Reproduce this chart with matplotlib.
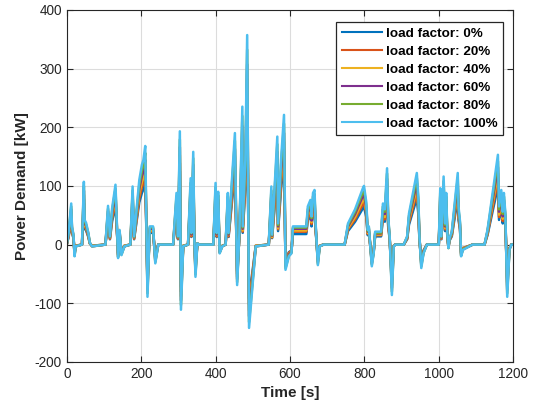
import numpy as np
import matplotlib.pyplot as plt

plt.rcParams['font.family'] = ['Liberation Sans', 'DejaVu Sans']
plt.rcParams['axes.unicode_minus'] = False

# =========================
# Data
# =========================
t = [0, 5, 12, 14, 18, 21, 24, 41, 46, 48, 52, 58, 62, 68, 104, 111, 116, 122, 131, 138,
     142, 147, 155, 171, 177, 181, 195, 202, 206, 211, 217, 223, 232, 238, 246, 286, 295, 299,
     304, 307, 313, 326, 333, 335, 340, 343, 346, 351, 356, 394, 400, 403, 407, 409, 411, 418,
     427, 433, 435, 445, 452, 458, 464, 472, 473, 480, 485, 490, 508, 543, 550, 552, 566, 568,
     576, 584, 588, 597, 604, 608, 644, 648, 655, 658, 662, 666, 669, 675, 680, 690, 747, 756,
     775, 796, 799, 805, 809, 812, 820, 825, 829, 845, 850, 855, 861, 864, 868, 874, 879, 883,
     906, 915, 920, 941, 945, 948, 953, 959, 968, 1000, 1004, 1007, 1013, 1017, 1020, 1023,
     1026, 1029, 1035, 1051, 1053, 1057, 1060, 1065, 1091, 1123, 1131, 1159, 1162, 1168, 1172,
     1175, 1179, 1184, 1190, 1195, 1200]

p100 = [0, 20, 70, 31, 17, -20, -3, 0, 107, 42, 37, 20, 3, -3, 0, 66, 14, 62, 102, -23,
        25, -18, -3, 0, 99, 14, 110, 136, 144, 168, -89, 31, 31, -32, 0, 0, 88, 14,
        193, -111, -3, 0, 113, 20, 158, 14, -55, 2, 0, 0, 105, 20, 90, 36, -15, -3,
        0, 88, 20, 120, 190, -69, 19, 235, 31, 144, 357, -142, -3, 0, 99, 17, 184, 36,
        144, 221, -43, -20, -15, 31, 31, 65, 76, 48, 88, 93, 36, -35, -3, 0, 0, 36,
        60, 96, 100, 73, 25, 31, -37, -15, 22, 22, 70, 60, 130, 48, 14, -86, -3, 0,
        0, 14, 53, 122, 82, 14, -40, -15, 0, 0, 96, 14, 116, 36, 88, 20,
        -6, 11, 22, 122, 65, 40, -20, -9, 0, 0, 25, 153, 65, 93, 56,
        88, 53, -89, -9, 0, 0]

p80 = [0, 19, 65, 29, 16, -19, -3, 0, 100, 39, 34, 19, 3, -3, 0, 61, 13, 58, 95, -21,
       23, -17, -3, 0, 92, 13, 102, 126, 134, 156, -83, 29, 29, -30, 0, 0, 82, 13,
       179, -103, -3, 0, 105, 19, 147, 13, -51, 2, 0, 0, 98, 19, 84, 33, -14, -3,
       0, 82, 19, 112, 177, -64, 18, 219, 29, 134, 332, -132, -3, 0, 92, 16, 171, 33,
       134, 206, -40, -19, -14, 29, 29, 60, 71, 45, 82, 86, 33, -33, -3, 0, 0, 33,
       56, 89, 93, 68, 23, 29, -34, -14, 20, 20, 65, 56, 121, 45, 13, -80, -3, 0,
       0, 13, 49, 113, 76, 13, -37, -14, 0, 0, 89, 13, 108, 33, 82, 19,
       -6, 10, 20, 113, 60, 37, -19, -8, 0, 0, 23, 142, 60, 86, 52,
       82, 49, -83, -8, 0, 0]

p60 = [0, 17, 60, 27, 15, -17, -3, 0, 92, 36, 32, 17, 3, -3, 0, 57, 12, 53, 88, -20,
       22, -15, -3, 0, 85, 12, 95, 117, 124, 144, -77, 27, 27, -28, 0, 0, 76, 12,
       166, -95, -3, 0, 97, 17, 136, 12, -47, 2, 0, 0, 90, 17, 77, 31, -13, -3,
       0, 76, 17, 103, 163, -59, 16, 202, 27, 124, 307, -122, -3, 0, 85, 15, 158, 31,
       124, 190, -37, -17, -13, 27, 27, 56, 65, 41, 76, 80, 31, -30, -3, 0, 0, 31,
       52, 83, 86, 63, 22, 27, -32, -13, 19, 19, 60, 52, 112, 41, 12, -74, -3, 0,
       0, 12, 46, 105, 71, 12, -34, -13, 0, 0, 83, 12, 100, 31, 76, 17,
       -5, 9, 19, 105, 56, 34, -17, -8, 0, 0, 22, 132, 56, 80, 48,
       76, 46, -77, -8, 0, 0]

p40 = [0, 16, 55, 24, 13, -16, -2, 0, 85, 33, 29, 16, 2, -2, 0, 52, 11, 49, 81, -18,
       20, -14, -2, 0, 78, 11, 87, 107, 114, 133, -70, 24, 24, -25, 0, 0, 70, 11,
       152, -88, -2, 0, 89, 16, 125, 11, -43, 2, 0, 0, 83, 16, 71, 28, -12, -2,
       0, 70, 16, 95, 150, -55, 15, 186, 24, 114, 282, -112, -2, 0, 78, 13, 145, 28,
       114, 175, -34, -16, -12, 24, 24, 51, 60, 38, 70, 73, 28, -28, -2, 0, 0, 28,
       47, 76, 79, 58, 20, 24, -29, -12, 17, 17, 55, 47, 103, 38, 11, -68, -2, 0,
       0, 11, 42, 96, 65, 11, -32, -12, 0, 0, 76, 11, 92, 28, 70, 16,
       -5, 9, 17, 96, 51, 32, -16, -7, 0, 0, 20, 121, 51, 73, 44,
       70, 42, -70, -7, 0, 0]

p20 = [0, 14, 50, 22, 12, -14, -2, 0, 77, 30, 27, 14, 2, -2, 0, 48, 10, 45, 73, -17,
       18, -13, -2, 0, 71, 10, 79, 98, 104, 121, -64, 22, 22, -23, 0, 0, 63, 10,
       139, -80, -2, 0, 81, 14, 114, 10, -40, 1, 0, 0, 76, 14, 65, 26, -11, -2,
       0, 63, 14, 86, 137, -50, 14, 169, 22, 104, 257, -102, -2, 0, 71, 12, 132, 26,
       104, 159, -31, -14, -11, 22, 22, 47, 55, 35, 63, 67, 26, -25, -2, 0, 0, 26,
       43, 69, 72, 53, 18, 22, -27, -11, 16, 16, 50, 43, 94, 35, 10, -62, -2, 0,
       0, 10, 38, 88, 59, 10, -29, -11, 0, 0, 69, 10, 84, 26, 63, 14,
       -4, 8, 16, 88, 47, 29, -14, -6, 0, 0, 18, 110, 47, 67, 40,
       63, 38, -64, -6, 0, 0]

p0 = [0, 13, 46, 20, 11, -13, -2, 0, 70, 27, 24, 13, 2, -2, 0, 43, 9, 40, 66, -15,
      16, -12, -2, 0, 64, 9, 72, 88, 94, 109, -58, 20, 20, -21, 0, 0, 57, 9,
      125, -72, -2, 0, 73, 13, 103, 9, -36, 1, 0, 0, 68, 13, 59, 23, -10, -2,
      0, 57, 13, 78, 124, -45, 12, 153, 20, 94, 232, -92, -2, 0, 64, 11, 120, 23,
      94, 144, -28, -13, -10, 18, 18, 42, 49, 31, 57, 60, 23, -23, -2, 0, 0, 23,
      39, 62, 65, 47, 16, 20, -24, -10, 14, 14, 46, 39, 85, 31, 9, -56, -2, 0,
      0, 9, 34, 79, 53, 9, -26, -10, 0, 0, 62, 9, 75, 23, 57, 13,
      -4, 7, 14, 79, 42, 26, -13, -6, 0, 0, 16, 99, 42, 60, 36,
      57, 34, -58, -6, 0, 0]

series = [p0, p20, p40, p60, p80, p100]
labels = ["load factor: 0%", "load factor: 20%", "load factor: 40%",
          "load factor: 60%", "load factor: 80%", "load factor: 100%"]
colors = ["#0072BD", "#D95319", "#EDB120", "#7E2F8E", "#77AC30", "#4DBEEE"]

# =========================
# Plot
# =========================
fig = plt.figure(figsize=(5.34, 4.09), dpi=100)
ax = fig.add_axes([0.125, 0.115, 0.836, 0.861])

for p, lab, c in zip(series, labels, colors):
    ax.plot(t, p, color=c, lw=1.8, label=lab)

ax.set_xlim(0, 1200)
ax.set_ylim(-200, 400)
ax.set_xticks(np.arange(0, 1201, 200))
ax.set_yticks(np.arange(-200, 401, 100))
ax.grid(True, color="#dcdcdc", lw=0.8)
ax.set_axisbelow(True)
ax.tick_params(direction="in", top=True, right=True, length=4, labelsize=9.8,
               colors="#262626")
for s in ax.spines.values():
    s.set_color("#262626")
    s.set_linewidth(0.8)

ax.set_xlabel("Time [s]", fontsize=11, fontweight="bold", color="#262626")
ax.set_ylabel("Power Demand [kW]", fontsize=11, fontweight="bold", color="#262626")

leg = ax.legend(loc="upper right", fancybox=False, framealpha=1, edgecolor="#262626",
                prop={"weight": "bold", "size": 9.7}, handlelength=3.0,
                handletextpad=0.3, labelspacing=0.42, borderpad=0.4,
                borderaxespad=0, bbox_to_anchor=(0.978, 0.966))
leg.get_frame().set_linewidth(0.9)
for ln in leg.get_lines():
    ln.set_linewidth(1.5)

fig.savefig("out.png", dpi=100)
plt.close(fig)
